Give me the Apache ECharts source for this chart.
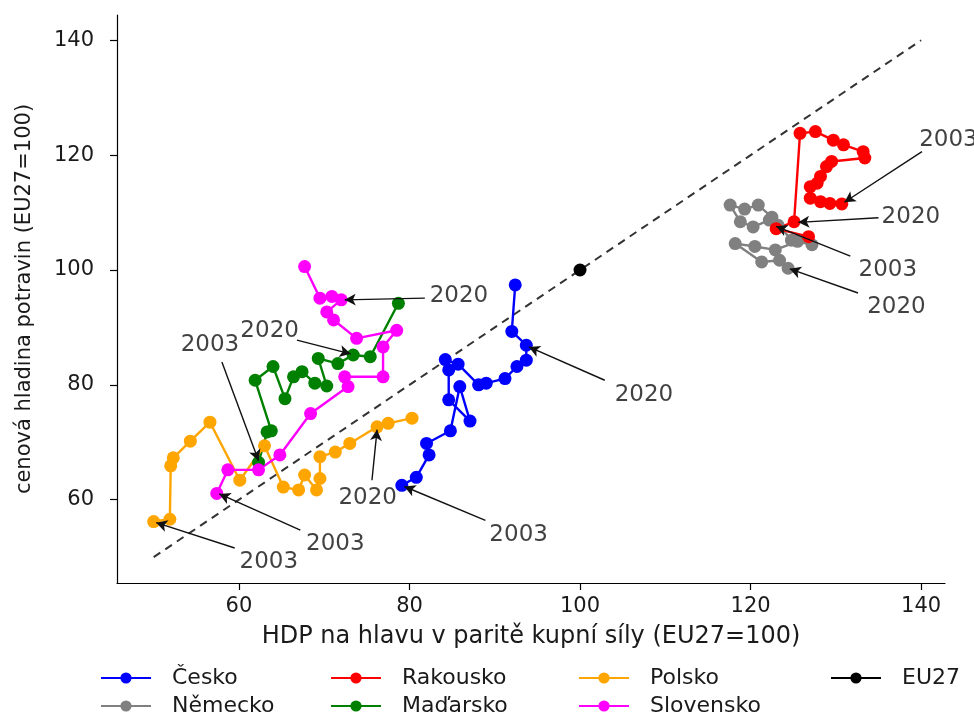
<!DOCTYPE html>
<html>
<head>
<meta charset="utf-8">
<script src="https://cdn.jsdelivr.net/npm/echarts@6/dist/echarts.min.js"></script>
<style>html,body{margin:0;padding:0;background:#fff}#c{width:974px;height:720px}</style>
</head>
<body>
<div id="c"></div>
<script>
// ---- data (x = HDP per capita PPS, y = food price level; EU27 = 100) ----
const cesko = [[79.1,62.5],[80.8,63.9],[82.3,67.8],[82.0,69.8],[84.8,72.0],[85.9,79.7],[87.1,73.7],[84.6,77.4],[84.6,82.6],[84.2,84.4],[85.7,83.6],[88.1,80.0],[89.0,80.3],[91.2,81.1],[92.6,83.2],[93.7,84.3],[93.7,86.9],[92.0,89.3],[92.4,97.4]];
const nemecko = [[123.2,107.8],[122.2,108.7],[120.3,107.5],[118.8,108.4],[117.6,111.3],[119.3,110.6],[120.9,111.3],[122.5,109.2],[124.8,105.2],[127.2,104.4],[125.5,105.0],[122.9,103.5],[120.5,104.1],[118.2,104.6],[121.3,101.4],[123.4,101.7],[124.4,100.3]];
const rakousko = [[130.7,111.5],[129.3,111.6],[128.2,111.9],[127.0,112.5],[127.0,114.5],[127.8,115.1],[128.2,116.3],[128.9,118.0],[129.5,118.9],[133.4,119.5],[133.2,120.6],[130.9,121.8],[129.7,122.6],[127.6,124.1],[125.8,123.8],[125.1,108.4],[123.0,107.2],[126.8,105.8]];
const madarsko = [[62.3,66.5],[63.3,71.8],[63.8,72.0],[61.9,80.8],[64.0,83.2],[65.4,77.6],[66.4,81.4],[67.4,82.3],[68.9,80.3],[70.3,79.8],[69.3,84.6],[71.6,83.7],[73.4,85.2],[75.4,84.9],[78.7,94.2]];
const polsko = [[50.0,56.2],[51.9,56.6],[52.0,65.9],[52.3,67.3],[54.3,70.2],[56.6,73.5],[60.1,63.4],[63.0,69.4],[65.2,62.2],[67.0,61.7],[67.7,64.3],[69.1,61.7],[69.5,63.7],[69.5,67.5],[71.3,68.3],[73.0,69.8],[76.2,72.7],[77.5,73.3],[80.3,74.2]];
const slovensko = [[57.4,61.1],[58.7,65.2],[62.3,65.2],[64.8,67.8],[68.4,75.0],[72.8,79.7],[72.4,81.4],[76.9,81.4],[76.9,86.6],[78.5,89.5],[73.8,88.1],[71.1,91.3],[70.3,92.7],[72.0,94.8],[70.9,95.4],[69.5,95.1],[67.7,100.6]];
const eu27 = [[100,100]];
const diagonal = [[50,50],[140,140]];
const ticksX = [60,80,100,120,140];
const ticksY = [60,80,100,120,140];
// annotations: label, text position, arrow start, pointed-to point
const annotTexts = ['2003','2020','2003','2020','2003','2020','2020','2020','2003','2020','2003','2003'];
const annotTextPos = [[92.8,53.8],[107.5,78.2],[143.2,122.6],[138.8,109.2],[136.1,100.0],[137.1,93.6],[85.8,95.5],[63.6,89.4],[56.6,86.9],[75.1,60.3],[63.5,49.1],[71.3,52.3]];
const annotArrowFrom = [[88.9,56.4],[102.9,80.8],[140.1,120.6],[135.0,109.1],[131.7,102.4],[132.6,96.0],[81.8,95.1],[66.8,87.8],[58.0,84.0],[75.6,63.4],[59.5,51.6],[67.2,54.7]];
const annotArrowTo = [[79.4,62.3],[94.0,86.6],[131.0,111.8],[125.6,108.3],[123.0,107.6],[124.6,100.2],[72.4,94.8],[73.1,85.4],[62.3,66.8],[76.2,72.2],[50.3,56.0],[57.7,61.0]];

const FONT = 'DejaVu Sans';
const TXT = '#1a1a1a';
function country(name, data, color) {
  return {
    name, type: 'line', data, symbol: 'circle', symbolSize: 13,
    itemStyle: { color }, lineStyle: { color, width: 2.4 },
    animation: false, z: 3
  };
}
const series = [
  { name: 'diag', type: 'line', data: diagonal, symbol: 'none', silent: true,
    lineStyle: { color: '#333', width: 2, type: [8, 6] }, animation: false, z: 2 },
  country('Česko', cesko, '#0000ff'),
  country('Německo', nemecko, '#808080'),
  country('Rakousko', rakousko, '#ff0000'),
  country('Maďarsko', madarsko, '#008000'),
  country('Polsko', polsko, '#ffa500'),
  country('Slovensko', slovensko, '#ff00ff'),
  country('EU27', eu27, '#000000'),
  { name: 'annot', type: 'scatter', symbolSize: 0, clip: false, silent: true, animation: false, z: 5,
    data: annotTexts.map((t, i) => ({ value: annotTextPos[i], label: { formatter: t } })),
    label: { show: true, position: 'inside', color: '#111', fontSize: 23, fontFamily: FONT },
    markLine: {
      silent: true, animation: false, symbol: ['none', 'arrow'], symbolSize: [9, 11],
      label: { show: false },
      lineStyle: { color: '#111', width: 1.4, type: 'solid' },
      data: annotArrowFrom.map((p, i) => [{ coord: p }, { coord: annotArrowTo[i] }])
    }
  }
];
const legendPos = [
  ['Česko', 100, 667], ['Rakousko', 330, 667], ['Polsko', 578, 667], ['EU27', 830, 667],
  ['Německo', 100, 695], ['Maďarsko', 330, 695], ['Slovensko', 578, 695]
];
const legends = legendPos.map(([n, l, t]) => ({
  data: [n], left: l, top: t, itemWidth: 50, itemHeight: 14, padding: 0,
  textStyle: { fontSize: 22, fontFamily: FONT, color: TXT, padding: [0, 0, 0, 16] },
  selectedMode: false
}));
const axisCommon = {
  axisLine: { show: true, lineStyle: { color: '#000', width: 1.2 } },
  axisTick: { show: true, length: 7, lineStyle: { color: '#000', width: 1.2 } },
  splitLine: { show: false }
};
const option = {
  backgroundColor: '#fff',
  animation: false,
  textStyle: { fontFamily: FONT },
  grid: { left: 117, right: 29, top: 15, bottom: 137 },
  legend: legends,
  xAxis: Object.assign({}, axisCommon, {
    type: 'value', min: 45.7, max: 142.8,
    axisTick: Object.assign({}, axisCommon.axisTick, { customValues: ticksX }),
    axisLabel: { customValues: ticksX, fontSize: 21, color: TXT, margin: 13, fontFamily: FONT },
    name: 'HDP na hlavu v paritě kupní síly (EU27=100)', nameLocation: 'middle', nameGap: 42,
    nameTextStyle: { fontSize: 24, color: TXT, fontFamily: FONT }
  }),
  yAxis: Object.assign({}, axisCommon, {
    type: 'value', min: 45.5, max: 144.4,
    axisTick: Object.assign({}, axisCommon.axisTick, { customValues: ticksY }),
    axisLabel: { customValues: ticksY, fontSize: 21, color: TXT, margin: 23, fontFamily: FONT },
    name: 'cenová hladina potravin (EU27=100)', nameLocation: 'middle', nameGap: 82,
    nameTextStyle: { fontSize: 21, color: TXT, fontFamily: FONT }
  }),
  series
};
const chart = echarts.init(document.getElementById('c'), null, { renderer: 'canvas' });
chart.setOption(option);
</script>
</body>
</html>
